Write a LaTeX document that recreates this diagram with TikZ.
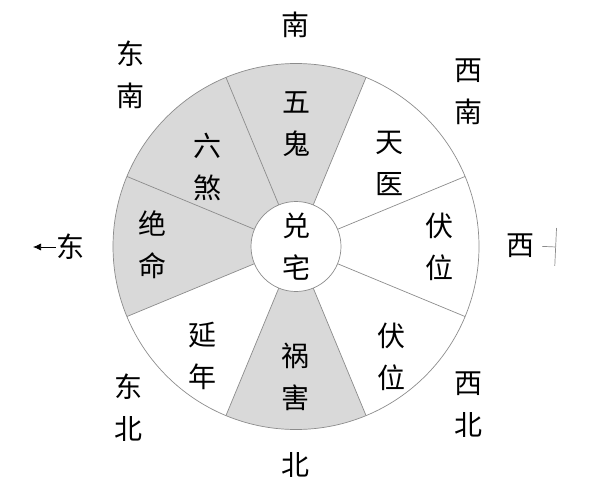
\documentclass[tikz,border=0pt]{standalone}
\usepackage{fontspec}
\newfontfamily\cjk{Noto Sans CJK SC}
\usetikzlibrary{arrows.meta, calc}

\tikzset{
  zi/.style={font=\cjk\fontsize{28}{42}\selectfont, inner sep=0pt, align=center},
  fenxian/.style={draw=gray!90, line width=0.7pt},
  huishan/.style={fill=gray!30}
}

\begin{document}
\begin{tikzpicture}[x=1pt, y=-1pt]
    \useasboundingbox (0,0) rectangle (596,484);
    \coordinate (zhong) at (296,246.5);

    % Grey sectors (top, upper left, left and bottom)
    \fill[huishan] (zhong) -- ++(-202.5:183) arc[start angle=-202.5, end angle=-67.5, radius=183] -- cycle;
    \fill[huishan] (zhong) -- ++(-292.5:183) arc[start angle=-292.5, end angle=-247.5, radius=183] -- cycle;

    % Dividing lines
    \foreach \a in {22.5,67.5,...,337.5} {
        \draw[fenxian] ($(zhong)+(\a:45)$) -- ($(zhong)+(\a:183)$);
    }

    % Outer ring and centre
    \node[circle, fenxian, minimum size=366pt, inner sep=0pt] (pan) at (zhong) {};
    \node[zi, circle, fenxian, fill=white, minimum size=90pt] (zhai) at (zhong) {兑\\宅};

    % Sector labels
    \node[zi] (wugui)   at (296,124)   {五\\鬼};
    \node[zi] (tianyi)  at (389,163)   {天\\医};
    \node[zi] (fuwei)   at (439,246.5) {伏\\位};
    \node[zi] (fuweib)  at (391,356.5) {伏\\位};
    \node[zi] (huohai)  at (295,377)   {祸\\害};
    \node[zi] (yannian) at (202,356)   {延\\年};
    \node[zi] (jueming) at (152.5,245) {绝\\命};
    \node[zi] (liusha)  at (207,166.5) {六\\煞};

    % Directions
    \node[zi] (nan)     at (295,25)    {南};
    \node[zi] (bei)     at (295,465)   {北};
    \node[zi] (dongnan) at (130,75)    {东\\南};
    \node[zi] (xinan)   at (468,92)    {西\\南};
    \node[zi] (dongbei) at (128,407.5) {东\\北};
    \node[zi] (xibei)   at (468,405)   {西\\北};
    \node[zi] (dong)    at (70,247)    {东};
    \node[zi] (xi)      at (520,246)   {西};

    % Direction markers
    \coordinate (dongjian) at (33,247);
    \coordinate (xibiao) at (556,247);
    \draw[line width=0.7pt, -{Latex[length=8pt, width=7pt]}] (dong.west) -- (dongjian);
    \draw[fenxian, shorten <=8pt, -{Bar[width=38pt]}] (xi.east) -- (xibiao);
\end{tikzpicture}
\end{document}
